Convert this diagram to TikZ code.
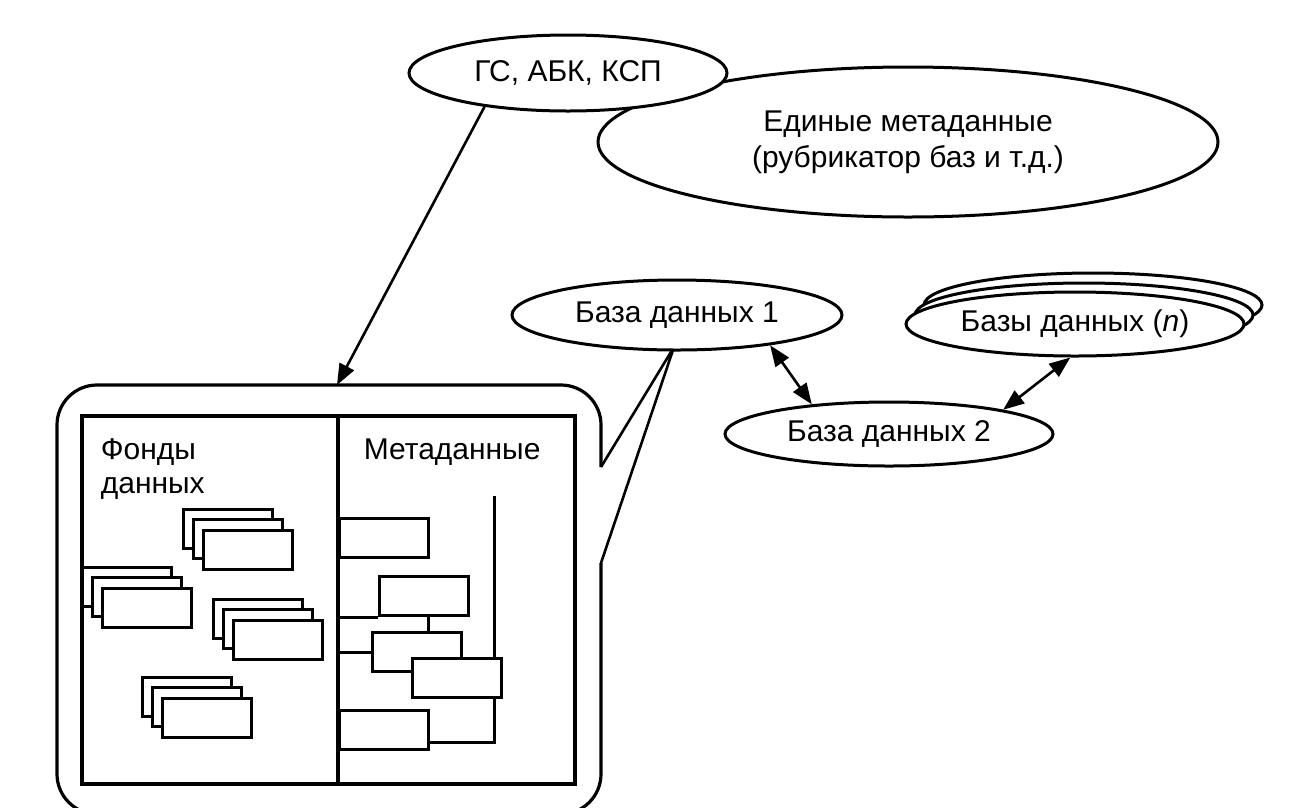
\documentclass[tikz,border=0pt]{standalone}
\usepackage{fontspec}
\setmainfont{Liberation Sans}
\usetikzlibrary{shapes.geometric,arrows.meta}
\newcommand\cardstack[3]{%
  \node[card] (#1a) at (#2,#3) {};
  \node[card] (#1b) at ({#2+10},{#3+10}) {};
  \node[card] (#1c) at ({#2+20},{#3+21}) {};}
\begin{document}
\begin{tikzpicture}[x=1pt,y=-1pt,
  line width=3pt,
  oval/.style={ellipse,draw,fill=white,inner sep=0pt,line width=3pt},
  card/.style={rectangle,draw,fill=white,minimum width=89pt,minimum height=39pt,anchor=north west,inner sep=0pt,line width=3.2pt},
  lbl/.style={font=\fontsize{30}{36}\selectfont},
  tipA/.style={-{Triangle[length=21pt,width=16pt]}},
  tipB/.style={{Triangle[length=21pt,width=16pt]}-{Triangle[length=21pt,width=16pt]}},
  ]
\useasboundingbox (0,0) rectangle (1314,807);

% top ellipses
\node[oval,minimum width=620pt,minimum height=150pt,align=center,lbl] (uni) at (908,142)
  {Единые метаданные\\(рубрикатор баз и т.д.)};
\node[oval,minimum width=318pt,minimum height=76pt,lbl] (gs) at (568,73) {ГС, АБК, КСП};

% callout
\coordinate (ptip) at (674,347);
\coordinate (calltop) at (337,385);
\draw[rounded corners=40pt,line width=3.2pt] (601,467) -- (601,385) -- (57,385) -- (57,814) -- (601,814) -- (601,563);
\draw[line join=miter,line width=2.6pt] (601,467) -- (ptip) -- (601,563);

% databases
\node[oval,minimum width=330pt,minimum height=70pt,lbl] (db1) at (677,315) {База данных 1};
\node[oval,minimum width=328pt,minimum height=64pt,lbl] (db2) at (889,434) {База данных 2};
\node[oval,minimum width=338pt,minimum height=64pt] (dbn3) at (1093,305) {};
\node[oval,minimum width=338pt,minimum height=64pt] (dbn2) at (1084,315) {};
\node[oval,minimum width=338pt,minimum height=64pt,lbl] (dbn) at (1075,324) {Базы данных (\textit{n})};

% arrows
\draw[tipA,line width=2.6pt] (gs.202) -- (calltop);
\draw[tipB,line width=2.6pt] (db1.-18) -- (db2.159);
\draw[tipB,line width=2.6pt] (dbn.262) -- (db2.12);

% inner panel
\node[draw,line width=3.6pt,minimum width=493pt,minimum height=368pt,anchor=north west,inner sep=0pt] (panel) at (80,414) {};
\coordinate (divT) at (338,414);
\coordinate (divB) at (338,782);
\draw[line width=3.2pt] (divT) -- (divB);
\node[lbl,anchor=base west] (fond1) at (96,459) {Фонды};
\node[lbl,anchor=base west] (fond2) at (96,493) {данных};
\node[lbl,anchor=base west] (meta) at (359,459) {Метаданные};

% data fund stacks
\cardstack{s1}{182}{508}
\cardstack{s2}{81}{566}
\cardstack{s3}{212}{598}
\cardstack{s4}{141}{676}

% metadata structure
\node[card] (mA) at (338,517) {};
\node[card] (mB) at (378,575) {};
\node[card] (mC) at (371,631) {};
\coordinate (vtop) at (494,496);
\draw (mB.south west -| divT) -- (mB.south west);
\draw ([xshift=4pt]mB.south) -- ([xshift=4pt]mB.south |- mC.north);
\draw (mC.west -| divT) -- (mC.west);
\node[card] (mD) at (411,657) {};
\draw (vtop) -- (vtop |- mD.north);
\node[card] (mE) at (338,709) {};
\draw (vtop |- mD.south) |- ([yshift=-12pt]mE.east);
\end{tikzpicture}
\end{document}
